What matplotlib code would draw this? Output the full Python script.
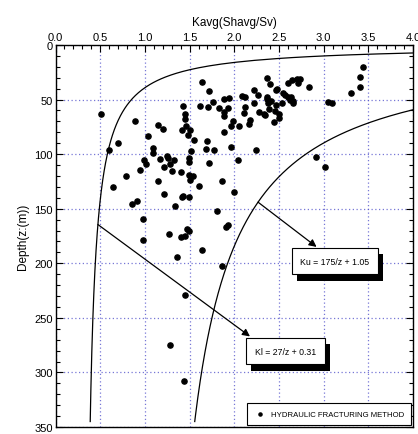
import matplotlib
matplotlib.use('Agg')
import matplotlib.pyplot as plt
import matplotlib.patheffects as pe
import numpy as np

plt.rcParams['font.family'] = ['Liberation Sans', 'DejaVu Sans']

# hydraulic fracturing data: K ratio and depth (m)
k_vals = [0.51, 0.89, 1.15, 1.20, 1.04, 0.70, 0.60, 1.09, 1.09, 1.25,
          1.43, 1.45, 1.45, 1.46, 1.42, 1.48, 1.64, 1.72, 1.62, 1.71,
          1.76, 1.83, 1.89, 1.94, 1.93, 1.89, 1.89, 1.98, 1.96, 2.05,
          1.89, 1.96, 1.77, 1.68, 1.70, 1.55, 1.50, 1.52, 2.09, 2.12,
          2.12, 2.11, 2.17, 2.16, 2.22, 2.26, 2.22, 2.28, 2.33, 2.34,
          2.24, 2.37, 2.40, 2.37, 2.37, 2.41, 2.38, 2.39, 2.47, 2.48,
          2.47, 2.46, 2.50, 2.50, 2.44, 2.53, 2.54, 2.57, 2.60, 2.63,
          2.62, 2.66, 2.66, 2.60, 2.65, 2.70, 2.71, 2.74, 2.83, 3.05,
          3.09, 3.31, 3.41, 3.41, 3.44, 2.91, 3.02, 0.99, 1.01, 0.95,
          0.79, 0.64, 1.15, 1.21, 1.17, 1.26, 1.33, 1.28, 1.30, 1.40,
          1.49, 1.50, 1.21, 0.91, 0.86, 1.42, 1.43, 1.49, 1.34, 0.98,
          0.98, 1.27, 1.40, 1.45, 1.47, 1.49, 1.36, 1.49, 1.49, 1.72,
          2.04, 1.54, 1.61, 1.86, 2.00, 1.81, 1.91, 1.93, 1.64, 1.86,
          1.45, 1.28, 1.44]
depths = [63.0, 70.0, 73.0, 77.0, 83.0, 90.0, 96.0, 94.0, 99.0, 101.5,
          56.0, 63.0, 67.6, 74.6, 78.0, 82.3, 33.5, 42.6, 55.8, 57.0,
          52.4, 57.6, 49.4, 49.0, 57.9, 61.5, 64.9, 69.2, 74.0, 74.0,
          80.1, 93.9, 96.3, 95.7, 88.0, 87.1, 78.3, 97.5, 46.9, 47.8,
          56.4, 62.2, 68.3, 72.8, 41.1, 46.0, 53.6, 61.2, 63.4, 64.6,
          96.3, 29.9, 35.9, 47.8, 49.7, 51.2, 53.6, 59.1, 40.8, 39.9,
          54.6, 60.6, 62.8, 66.7, 70.4, 53.3, 44.2, 45.7, 47.3, 47.3,
          50.3, 51.2, 53.3, 35.0, 32.0, 31.1, 34.7, 31.1, 38.7, 51.8,
          53.0, 44.2, 38.1, 29.3, 20.4, 103.0, 111.5, 105.7, 109.4, 114.5,
          120.0, 129.8, 124.3, 112.2, 104.5, 103.9, 105.7, 109.0, 115.8, 116.4,
          118.8, 124.0, 136.8, 143.2, 145.6, 139.6, 138.0, 138.9, 147.2, 159.7,
          178.5, 173.0, 176.1, 174.6, 168.2, 170.6, 194.7, 103.3, 107.2, 107.9,
          105.7, 120.0, 129.2, 124.3, 135.0, 151.7, 166.4, 165.2, 188.0, 202.3,
          228.8, 275.1, 308.0]

# envelope curves K = a/z + b
ku_a, ku_b = 175, 1.05
kl_a, kl_b = 27, 0.31

fig = plt.figure(figsize=(4.18, 4.35), dpi=100)
ax = fig.add_axes([0.1328, 0.0161, 0.8555, 0.8782])

ax.scatter(k_vals, depths, s=14, color='black', zorder=3,
           label='HYDRAULIC FRACTURING METHOD')

z = np.linspace(kl_a / (4.0 - kl_b), 345, 400)
ax.plot(kl_a / z + kl_b, z, color='black', lw=0.9)
z = np.linspace(ku_a / (4.0 - ku_b), 345, 400)
ax.plot(ku_a / z + ku_b, z, color='black', lw=0.9)

ax.set_xlim(0, 4.0)
ax.set_ylim(350, 0)
ax.xaxis.tick_top()
ax.xaxis.set_label_position('top')
ax.set_xticks(np.arange(0, 4.01, 0.5))
ax.set_xticks(np.arange(0, 4.01, 0.1), minor=True)
ax.set_yticks(np.arange(0, 351, 50))
ax.set_yticks(np.arange(0, 351, 10), minor=True)
ax.xaxis.set_major_formatter(matplotlib.ticker.FormatStrFormatter('%.1f'))
ax.tick_params(which='both', direction='in', top=True, bottom=False,
               left=True, right=True, labelsize=8, width=0.8, pad=2)
ax.tick_params(which='major', length=5)
ax.tick_params(which='minor', length=3)
ax.set_xlabel('Kavg(Shavg/Sv)', fontsize=8.5, labelpad=5)
ax.set_ylabel('Depth(z:(m))', fontsize=8.5, labelpad=4)
ax.grid(True, which='major', color='#5555cc', linestyle=(0, (1, 2)), lw=0.9, alpha=0.8)
ax.set_axisbelow(True)
for s in ax.spines.values():
    s.set_linewidth(1.0)

shadow = [pe.withSimplePatchShadow(offset=(3.6, -4.5), shadow_rgbFace='black', alpha=1.0)]
arrow = dict(arrowstyle='-|>', color='black', lw=0.9, mutation_scale=11,
             shrinkA=0, shrinkB=0)

# Ku annotation
z0 = 144
ax.annotate('', xy=(2.92, 185), xytext=(ku_a / z0 + ku_b, z0), arrowprops=arrow)
t = ax.text(3.126, 198, 'Ku = 175/z + 1.05', fontsize=6.3, ha='center', va='center',
            bbox=dict(boxstyle='square,pad=1.0', fc='white', ec='black', lw=0.8), zorder=5)
t.get_bbox_patch().set_path_effects(shadow)

# Kl annotation
z0 = 164.5
ax.annotate('', xy=(2.175, 267), xytext=(kl_a / z0 + kl_b, z0), arrowprops=arrow)
t = ax.text(2.573, 280.6, 'Kl = 27/z + 0.31', fontsize=6.3, ha='center', va='center',
            bbox=dict(boxstyle='square,pad=1.0', fc='white', ec='black', lw=0.8), zorder=5)
t.get_bbox_patch().set_path_effects(shadow)

leg = ax.legend(loc='lower right', fontsize=5.6, frameon=True, fancybox=False,
                edgecolor='black', framealpha=1, handletextpad=0.6, markerscale=0.6,
                borderpad=0.9, borderaxespad=0.3, handlelength=1.5)
leg.get_frame().set_linewidth(0.8)

plt.savefig('out.png', dpi=100)
